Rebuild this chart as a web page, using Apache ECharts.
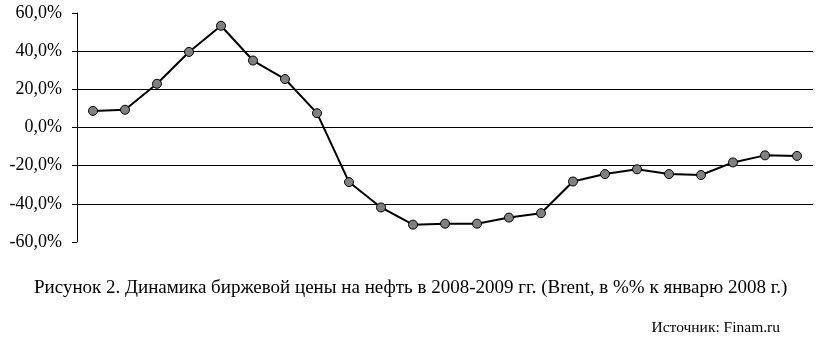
<!DOCTYPE html>
<html><head><meta charset="utf-8">
<script src="https://cdn.jsdelivr.net/npm/echarts@6/dist/echarts.min.js"></script>
<style>html,body{margin:0;padding:0;background:#fff}#c{width:819px;height:346px}</style>
</head><body><div id="c"></div>
<script>
var categories = ['1','2','3','4','5','6','7','8','9','10','11','12','13','14','15','16','17','18','19','20','21','22','23'];
var values = [8.7, 9.3, 22.9, 39.6, 53.3, 35.1, 25.4, 7.5, -28.6, -41.9, -50.9, -50.4, -50.4, -47.2, -44.9, -28.3, -24.4, -21.9, -24.4, -24.9, -18.3, -14.6, -14.9];
var yTicks = {min: -60, max: 60, step: 20};
var captionText = 'Рисунок 2. Динамика биржевой цены на нефть в 2008-2009 гг. (Brent, в %% к январю 2008 г.)';
var sourceText = 'Источник: Finam.ru';

var chart = echarts.init(document.getElementById('c'));
chart.setOption({
  animation: false,
  backgroundColor: '#fff',
  grid: {left: 77, right: 6, top: 13, bottom: 104, containLabel: false},
  xAxis: {
    type: 'category', data: categories, boundaryGap: true,
    axisLine: {show: false}, axisTick: {show: false}, axisLabel: {show: false}, splitLine: {show: false}
  },
  yAxis: {
    type: 'value', min: yTicks.min, max: yTicks.max, interval: yTicks.step,
    axisLine: {show: true, lineStyle: {color: '#000', width: 1}},
    axisTick: {show: true, length: 5, lineStyle: {color: '#000'}},
    axisLabel: {
      color: '#000', fontFamily: 'Liberation Serif', fontSize: 18, margin: 15,
      formatter: function (v) { return v.toFixed(1).replace('.', ',') + '%'; }
    },
    splitLine: {show: true, showMinLine: false, showMaxLine: false, lineStyle: {color: '#000', width: 1}}
  },
  series: [{
    type: 'line', data: values,
    symbol: 'circle', symbolSize: 9,
    lineStyle: {color: '#000', width: 2},
    itemStyle: {color: '#808080', borderColor: '#000', borderWidth: 1}
  }],
  graphic: [
    {type: 'text', left: 34, top: 279, style: {text: captionText, font: '19px "Liberation Serif"', fill: '#000'}},
    {type: 'text', right: 39, top: 320, style: {text: sourceText, font: '15.5px "Liberation Serif"', fill: '#000'}}
  ]
});
</script></body></html>
